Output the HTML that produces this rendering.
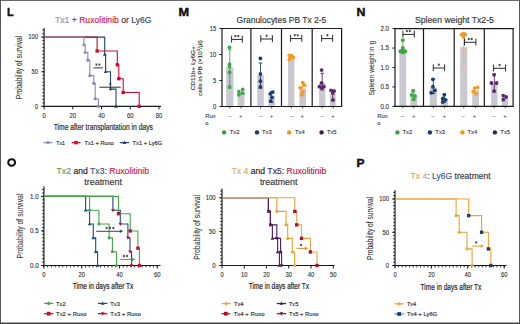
<!DOCTYPE html>
<html><head><meta charset="utf-8"><style>
html,body{margin:0;padding:0;background:#fff;width:520px;height:324px;overflow:hidden;}
svg{display:block;font-family:"Liberation Sans", sans-serif;}
</style></head><body>
<svg xmlns="http://www.w3.org/2000/svg" width="520" height="324" viewBox="0 0 520 324" font-family='"Liberation Sans", sans-serif'><rect x="0" y="0" width="520" height="324" fill="#ffffff" />
<text x="7" y="16" font-size="11.4" fill="#111" stroke="#111" stroke-width="0.45" font-weight="bold" textLength="6.6" lengthAdjust="spacingAndGlyphs" >L</text>
<text x="55" y="22.6" font-size="8.3" textLength="96.5" lengthAdjust="spacingAndGlyphs"><tspan fill="#8f8db8" stroke="#8f8db8" stroke-width="0.14">Tx1</tspan><tspan fill="#444" stroke="#444" stroke-width="0.14"> + </tspan><tspan fill="#c8174a" stroke="#c8174a" stroke-width="0.14">Ruxolitinib</tspan><tspan fill="#333" stroke="#333" stroke-width="0.14"> or </tspan><tspan fill="#33486a" stroke="#33486a" stroke-width="0.14">Ly6G</tspan></text>
<line x1="44.1" y1="28" x2="44.1" y2="106.9" stroke="#1a1a1a" stroke-width="1.2" />
<line x1="42.3" y1="106.4" x2="44.1" y2="106.4" stroke="#1a1a1a" stroke-width="0.9" />
<line x1="42.3" y1="102.94" x2="44.1" y2="102.94" stroke="#1a1a1a" stroke-width="0.9" />
<line x1="42.3" y1="99.47" x2="44.1" y2="99.47" stroke="#1a1a1a" stroke-width="0.9" />
<line x1="42.3" y1="96.01" x2="44.1" y2="96.01" stroke="#1a1a1a" stroke-width="0.9" />
<line x1="42.3" y1="92.54" x2="44.1" y2="92.54" stroke="#1a1a1a" stroke-width="0.9" />
<line x1="42.3" y1="89.08" x2="44.1" y2="89.08" stroke="#1a1a1a" stroke-width="0.9" />
<line x1="42.3" y1="85.61" x2="44.1" y2="85.61" stroke="#1a1a1a" stroke-width="0.9" />
<line x1="42.3" y1="82.15" x2="44.1" y2="82.15" stroke="#1a1a1a" stroke-width="0.9" />
<line x1="42.3" y1="78.68" x2="44.1" y2="78.68" stroke="#1a1a1a" stroke-width="0.9" />
<line x1="42.3" y1="75.22" x2="44.1" y2="75.22" stroke="#1a1a1a" stroke-width="0.9" />
<line x1="42.3" y1="71.75" x2="44.1" y2="71.75" stroke="#1a1a1a" stroke-width="0.9" />
<line x1="42.3" y1="68.29" x2="44.1" y2="68.29" stroke="#1a1a1a" stroke-width="0.9" />
<line x1="42.3" y1="64.82" x2="44.1" y2="64.82" stroke="#1a1a1a" stroke-width="0.9" />
<line x1="42.3" y1="61.36" x2="44.1" y2="61.36" stroke="#1a1a1a" stroke-width="0.9" />
<line x1="42.3" y1="57.89" x2="44.1" y2="57.89" stroke="#1a1a1a" stroke-width="0.9" />
<line x1="42.3" y1="54.43" x2="44.1" y2="54.43" stroke="#1a1a1a" stroke-width="0.9" />
<line x1="42.3" y1="50.96" x2="44.1" y2="50.96" stroke="#1a1a1a" stroke-width="0.9" />
<line x1="42.3" y1="47.5" x2="44.1" y2="47.5" stroke="#1a1a1a" stroke-width="0.9" />
<line x1="42.3" y1="44.03" x2="44.1" y2="44.03" stroke="#1a1a1a" stroke-width="0.9" />
<line x1="42.3" y1="40.57" x2="44.1" y2="40.57" stroke="#1a1a1a" stroke-width="0.9" />
<line x1="42.3" y1="37.1" x2="44.1" y2="37.1" stroke="#1a1a1a" stroke-width="0.9" />
<line x1="42.3" y1="33.64" x2="44.1" y2="33.64" stroke="#1a1a1a" stroke-width="0.9" />
<line x1="42.3" y1="30.17" x2="44.1" y2="30.17" stroke="#1a1a1a" stroke-width="0.9" />
<line x1="41.3" y1="106.4" x2="44.1" y2="106.4" stroke="#1a1a1a" stroke-width="1" />
<line x1="41.3" y1="71.75" x2="44.1" y2="71.75" stroke="#1a1a1a" stroke-width="1" />
<line x1="41.3" y1="37.1" x2="44.1" y2="37.1" stroke="#1a1a1a" stroke-width="1" />
<line x1="43.6" y1="106.4" x2="161" y2="106.4" stroke="#1a1a1a" stroke-width="1.2" />
<line x1="44.1" y1="106.4" x2="44.1" y2="109.4" stroke="#1a1a1a" stroke-width="1" />
<line x1="72.82" y1="106.4" x2="72.82" y2="109.4" stroke="#1a1a1a" stroke-width="1" />
<line x1="101.54" y1="106.4" x2="101.54" y2="109.4" stroke="#1a1a1a" stroke-width="1" />
<line x1="130.26" y1="106.4" x2="130.26" y2="109.4" stroke="#1a1a1a" stroke-width="1" />
<line x1="158.98" y1="106.4" x2="158.98" y2="109.4" stroke="#1a1a1a" stroke-width="1" />
<text x="37.9" y="108.75" font-size="6.6" fill="#2a2a2a" stroke="#2a2a2a" stroke-width="0.1" text-anchor="end" textLength="3.25" lengthAdjust="spacingAndGlyphs" >0</text>
<text x="37.9" y="74.1" font-size="6.6" fill="#2a2a2a" stroke="#2a2a2a" stroke-width="0.1" text-anchor="end" textLength="6.5" lengthAdjust="spacingAndGlyphs" >50</text>
<text x="37.9" y="39.45" font-size="6.6" fill="#2a2a2a" stroke="#2a2a2a" stroke-width="0.1" text-anchor="end" textLength="9.75" lengthAdjust="spacingAndGlyphs" >100</text>
<text x="44.1" y="118.3" font-size="6.6" fill="#2a2a2a" stroke="#2a2a2a" stroke-width="0.1" text-anchor="middle" textLength="3.25" lengthAdjust="spacingAndGlyphs" >0</text>
<text x="72.82" y="118.3" font-size="6.6" fill="#2a2a2a" stroke="#2a2a2a" stroke-width="0.1" text-anchor="middle" textLength="6.5" lengthAdjust="spacingAndGlyphs" >20</text>
<text x="101.54" y="118.3" font-size="6.6" fill="#2a2a2a" stroke="#2a2a2a" stroke-width="0.1" text-anchor="middle" textLength="6.5" lengthAdjust="spacingAndGlyphs" >40</text>
<text x="130.26" y="118.3" font-size="6.6" fill="#2a2a2a" stroke="#2a2a2a" stroke-width="0.1" text-anchor="middle" textLength="6.5" lengthAdjust="spacingAndGlyphs" >60</text>
<text x="158.98" y="118.3" font-size="6.6" fill="#2a2a2a" stroke="#2a2a2a" stroke-width="0.1" text-anchor="middle" textLength="6.5" lengthAdjust="spacingAndGlyphs" >80</text>
<text x="103.3" y="130.4" font-size="8.3" fill="#333" stroke="#333" stroke-width="0.22" text-anchor="middle" textLength="99.2" lengthAdjust="spacingAndGlyphs" >Time after transplantation in days</text>
<text x="22.4" y="67.4" font-size="8.2" fill="#333" stroke="#333" stroke-width="0.08" text-anchor="middle" textLength="63.5" lengthAdjust="spacingAndGlyphs" transform="rotate(-90 22.4 67.4)" >Probability of survival</text>
<path d="M44.5,37.1 H104.7 V54.43 H105.6 V71.75 H110.5 V89.08 H116 V106.4" stroke="#22456e" stroke-width="1.1" fill="none" />
<path d="M44.5,37.1 H97.1 V50.96 H117.3 V64.82 H118.8 V78.68 H123.2 V92.54 H139.2 V106.4" stroke="#c8102e" stroke-width="1.1" fill="none" />
<path d="M44.5,37.1 H83.9 V44.79 H85.2 V52.48 H87.8 V60.18 H89.8 V75.63 H93.8 V83.32 H95.2 V98.71 H98.4 V106.4" stroke="#8a88b6" stroke-width="1.1" fill="none" />
<circle cx="83.9" cy="44.79" r="1.56" fill="#8a88b6" />
<circle cx="85.2" cy="52.48" r="1.56" fill="#8a88b6" />
<circle cx="87.8" cy="60.18" r="1.56" fill="#8a88b6" />
<circle cx="89.8" cy="75.63" r="1.56" fill="#8a88b6" />
<circle cx="93.8" cy="83.32" r="1.56" fill="#8a88b6" />
<circle cx="95.2" cy="98.71" r="1.56" fill="#8a88b6" />
<circle cx="98.4" cy="106.4" r="1.56" fill="#8a88b6" />
<rect x="95.42" y="49.28" width="3.36" height="3.36" fill="#c8102e" />
<rect x="115.62" y="63.14" width="3.36" height="3.36" fill="#c8102e" />
<rect x="117.12" y="77" width="3.36" height="3.36" fill="#c8102e" />
<rect x="121.52" y="90.86" width="3.36" height="3.36" fill="#c8102e" />
<rect x="137.52" y="104.72" width="3.36" height="3.36" fill="#c8102e" />
<polygon points="104.7,52.48 106.5,55.72 102.9,55.72" fill="#22456e"/>
<polygon points="105.6,69.81 107.4,73.05 103.8,73.05" fill="#22456e"/>
<polygon points="110.5,87.13 112.3,90.37 108.7,90.37" fill="#22456e"/>
<polygon points="116,104.46 117.8,107.7 114.2,107.7" fill="#22456e"/>
<line x1="93.5" y1="67.9" x2="102.9" y2="67.9" stroke="#333" stroke-width="1" />
<path d="M96.4,63.5 L96.4,65.7 M95.45,64.05 L97.35,65.15 M97.35,64.05 L95.45,65.15 " stroke="#2a2a2a" stroke-width="0.75" fill="none" />
<path d="M99.4,63.5 L99.4,65.7 M98.45,64.05 L100.35,65.15 M100.35,64.05 L98.45,65.15 " stroke="#2a2a2a" stroke-width="0.75" fill="none" />
<line x1="99.4" y1="87.2" x2="120.7" y2="87.2" stroke="#2a2a2a" stroke-width="1" />
<path d="M110.3,82.9 L110.3,85.1 M109.35,83.45 L111.25,84.55 M111.25,83.45 L109.35,84.55 " stroke="#2a2a2a" stroke-width="0.75" fill="none" />
<line x1="43.5" y1="142.6" x2="52.4" y2="142.6" stroke="#8a88b6" stroke-width="1.25" />
<circle cx="47.95" cy="142.6" r="1.62" fill="#8a88b6" />
<text x="56.2" y="144.8" font-size="6" fill="#2a2a2a" stroke="#2a2a2a" stroke-width="0.14" textLength="8.8" lengthAdjust="spacingAndGlyphs" >Tx1</text>
<line x1="71.6" y1="142.6" x2="80.5" y2="142.6" stroke="#c8102e" stroke-width="1.25" />
<rect x="74.3" y="140.85" width="3.5" height="3.5" fill="#c8102e" />
<text x="84.4" y="144.8" font-size="6" fill="#2a2a2a" stroke="#2a2a2a" stroke-width="0.14" textLength="29.4" lengthAdjust="spacingAndGlyphs" >Tx1 + Ruxo</text>
<line x1="119.8" y1="142.6" x2="129.1" y2="142.6" stroke="#22456e" stroke-width="1.25" />
<polygon points="124.45,140.57 126.32,143.95 122.57,143.95" fill="#22456e"/>
<text x="132.6" y="144.8" font-size="6" fill="#2a2a2a" stroke="#2a2a2a" stroke-width="0.14" textLength="29.6" lengthAdjust="spacingAndGlyphs" >Tx1 + Ly6G</text>
<text x="178.4" y="16" font-size="11.4" fill="#111" stroke="#111" stroke-width="0.45" font-weight="bold" textLength="10.6" lengthAdjust="spacingAndGlyphs" >M</text>
<text x="236.6" y="22.8" font-size="8.3" fill="#333" stroke="#333" stroke-width="0.14" textLength="89.6" lengthAdjust="spacingAndGlyphs" >Granulocytes PB Tx 2-5</text>
<rect x="226.2" y="67.52" width="7.2" height="38.98" fill="#c9c7cf" />
<rect x="237.6" y="92.28" width="6.8" height="14.22" fill="#c9c7cf" />
<line x1="229.8" y1="49.8" x2="229.8" y2="88" stroke="#3da647" stroke-width="0.9" />
<line x1="228" y1="49.8" x2="231.6" y2="49.8" stroke="#3da647" stroke-width="0.9" />
<line x1="228" y1="88" x2="231.6" y2="88" stroke="#3da647" stroke-width="0.9" />
<circle cx="229.5" cy="47.3" r="1.9" fill="#3da647" />
<circle cx="229.5" cy="64.2" r="1.9" fill="#3da647" />
<circle cx="229.5" cy="66.6" r="1.9" fill="#3da647" />
<circle cx="229.5" cy="72.5" r="1.9" fill="#3da647" />
<circle cx="229.5" cy="87" r="1.9" fill="#3da647" />
<circle cx="238.9" cy="91.7" r="1.9" fill="#3da647" />
<circle cx="242.7" cy="89.4" r="1.9" fill="#3da647" />
<circle cx="238.9" cy="94.8" r="1.9" fill="#3da647" />
<circle cx="242.7" cy="93.2" r="1.9" fill="#3da647" />
<line x1="231.6" y1="39.4" x2="242.3" y2="39.4" stroke="#2a2a2a" stroke-width="1" />
<line x1="231.6" y1="35.7" x2="231.6" y2="42.6" stroke="#2a2a2a" stroke-width="1" />
<line x1="242.3" y1="35.7" x2="242.3" y2="42.6" stroke="#2a2a2a" stroke-width="1" />
<path d="M235.45,35 L235.45,37.2 M234.5,35.55 L236.4,36.65 M236.4,35.55 L234.5,36.65 " stroke="#2a2a2a" stroke-width="0.75" fill="none" />
<path d="M238.35,35 L238.35,37.2 M237.4,35.55 L239.3,36.65 M239.3,35.55 L237.4,36.65 " stroke="#2a2a2a" stroke-width="0.75" fill="none" />
<rect x="257.2" y="75.12" width="6.6" height="31.38" fill="#c9c7cf" />
<rect x="268.4" y="96.12" width="6.6" height="10.38" fill="#c9c7cf" />
<line x1="260.5" y1="63.1" x2="260.5" y2="88" stroke="#1b3f70" stroke-width="0.9" />
<line x1="258.7" y1="63.1" x2="262.3" y2="63.1" stroke="#1b3f70" stroke-width="0.9" />
<line x1="258.7" y1="88" x2="262.3" y2="88" stroke="#1b3f70" stroke-width="0.9" />
<circle cx="260.4" cy="58.4" r="1.9" fill="#1b3f70" />
<circle cx="260.4" cy="74" r="1.9" fill="#1b3f70" />
<circle cx="260.4" cy="81.2" r="1.9" fill="#1b3f70" />
<circle cx="260.4" cy="86.9" r="1.9" fill="#1b3f70" />
<line x1="271.7" y1="91.5" x2="271.7" y2="102.5" stroke="#1b3f70" stroke-width="0.9" />
<line x1="269.9" y1="91.5" x2="273.5" y2="91.5" stroke="#1b3f70" stroke-width="0.9" />
<line x1="269.9" y1="102.5" x2="273.5" y2="102.5" stroke="#1b3f70" stroke-width="0.9" />
<circle cx="270.2" cy="93.9" r="1.9" fill="#1b3f70" />
<circle cx="272.8" cy="92.1" r="1.9" fill="#1b3f70" />
<circle cx="272" cy="97.3" r="1.9" fill="#1b3f70" />
<circle cx="270.7" cy="101.2" r="1.9" fill="#1b3f70" />
<line x1="260.8" y1="39" x2="272.4" y2="39" stroke="#2a2a2a" stroke-width="1" />
<line x1="260.8" y1="35.3" x2="260.8" y2="42.2" stroke="#2a2a2a" stroke-width="1" />
<line x1="272.4" y1="35.3" x2="272.4" y2="42.2" stroke="#2a2a2a" stroke-width="1" />
<path d="M266.6,34.6 L266.6,36.8 M265.65,35.15 L267.55,36.25 M267.55,35.15 L265.65,36.25 " stroke="#2a2a2a" stroke-width="0.75" fill="none" />
<rect x="288" y="57.12" width="6.4" height="49.38" fill="#c9c7cf" />
<rect x="299.4" y="88.52" width="6.6" height="17.98" fill="#c9c7cf" />
<circle cx="289.3" cy="55.4" r="1.9" fill="#f29a21" />
<circle cx="289.3" cy="59.6" r="1.9" fill="#f29a21" />
<circle cx="293.3" cy="57.5" r="1.9" fill="#f29a21" />
<circle cx="291.3" cy="57.5" r="1.9" fill="#f29a21" />
<circle cx="291.5" cy="55.6" r="1.9" fill="#f29a21" />
<line x1="302.7" y1="82" x2="302.7" y2="95.5" stroke="#f29a21" stroke-width="0.9" />
<line x1="300.9" y1="82" x2="304.5" y2="82" stroke="#f29a21" stroke-width="0.9" />
<line x1="300.9" y1="95.5" x2="304.5" y2="95.5" stroke="#f29a21" stroke-width="0.9" />
<circle cx="302.7" cy="82.6" r="1.9" fill="#f29a21" />
<circle cx="304.6" cy="85.2" r="1.9" fill="#f29a21" />
<circle cx="300.2" cy="87.8" r="1.9" fill="#f29a21" />
<circle cx="302.7" cy="92.2" r="1.9" fill="#f29a21" />
<circle cx="301.6" cy="94.8" r="1.9" fill="#f29a21" />
<line x1="290.6" y1="38.6" x2="301.8" y2="38.6" stroke="#2a2a2a" stroke-width="1" />
<line x1="290.6" y1="34.9" x2="290.6" y2="41.8" stroke="#2a2a2a" stroke-width="1" />
<line x1="301.8" y1="34.9" x2="301.8" y2="41.8" stroke="#2a2a2a" stroke-width="1" />
<path d="M294.75,34.2 L294.75,36.4 M293.8,34.75 L295.7,35.85 M295.7,34.75 L293.8,35.85 " stroke="#2a2a2a" stroke-width="0.75" fill="none" />
<path d="M297.65,34.2 L297.65,36.4 M296.7,34.75 L298.6,35.85 M298.6,34.75 L296.7,35.85 " stroke="#2a2a2a" stroke-width="0.75" fill="none" />
<rect x="319.1" y="82.9" width="6.2" height="23.6" fill="#c9c7cf" />
<rect x="329.8" y="93.62" width="5.9" height="12.88" fill="#c9c7cf" />
<line x1="322.2" y1="73.3" x2="322.2" y2="90" stroke="#5a2a6c" stroke-width="0.9" />
<line x1="320.4" y1="73.3" x2="324" y2="73.3" stroke="#5a2a6c" stroke-width="0.9" />
<line x1="320.4" y1="90" x2="324" y2="90" stroke="#5a2a6c" stroke-width="0.9" />
<circle cx="321.6" cy="70.1" r="1.9" fill="#5a2a6c" />
<circle cx="321.6" cy="83" r="1.9" fill="#5a2a6c" />
<circle cx="319.4" cy="86.7" r="1.9" fill="#5a2a6c" />
<circle cx="323.9" cy="86.7" r="1.9" fill="#5a2a6c" />
<circle cx="321.8" cy="88" r="1.9" fill="#5a2a6c" />
<line x1="332.75" y1="90" x2="332.75" y2="100.5" stroke="#5a2a6c" stroke-width="0.9" />
<line x1="330.95" y1="90" x2="334.55" y2="90" stroke="#5a2a6c" stroke-width="0.9" />
<line x1="330.95" y1="100.5" x2="334.55" y2="100.5" stroke="#5a2a6c" stroke-width="0.9" />
<circle cx="331" cy="90.4" r="1.9" fill="#5a2a6c" />
<circle cx="334.2" cy="91.1" r="1.9" fill="#5a2a6c" />
<circle cx="332.8" cy="93" r="1.9" fill="#5a2a6c" />
<circle cx="333" cy="100" r="1.9" fill="#5a2a6c" />
<line x1="321.6" y1="38.6" x2="332.6" y2="38.6" stroke="#2a2a2a" stroke-width="1" />
<line x1="321.6" y1="34.9" x2="321.6" y2="41.8" stroke="#2a2a2a" stroke-width="1" />
<line x1="332.6" y1="34.9" x2="332.6" y2="41.8" stroke="#2a2a2a" stroke-width="1" />
<path d="M327.4,34.2 L327.4,36.4 M326.45,34.75 L328.35,35.85 M328.35,34.75 L326.45,35.85 " stroke="#2a2a2a" stroke-width="0.75" fill="none" />
<line x1="222" y1="28.5" x2="342.1" y2="28.5" stroke="#1a1a1a" stroke-width="1.2" />
<line x1="250.9" y1="28.5" x2="250.9" y2="106.5" stroke="#1a1a1a" stroke-width="1.2" />
<line x1="281.5" y1="28.5" x2="281.5" y2="106.5" stroke="#1a1a1a" stroke-width="1.2" />
<line x1="312.2" y1="28.5" x2="312.2" y2="106.5" stroke="#1a1a1a" stroke-width="1.2" />
<line x1="341.6" y1="28.5" x2="341.6" y2="106.5" stroke="#1a1a1a" stroke-width="1.2" />
<line x1="222" y1="28" x2="222" y2="107" stroke="#1a1a1a" stroke-width="1.2" />
<line x1="221.5" y1="106.5" x2="342.1" y2="106.5" stroke="#1a1a1a" stroke-width="1.2" />
<line x1="219.4" y1="106.5" x2="222" y2="106.5" stroke="#1a1a1a" stroke-width="1" />
<text x="216.2" y="108.85" font-size="6.6" fill="#2a2a2a" stroke="#2a2a2a" stroke-width="0.1" text-anchor="end" textLength="3.25" lengthAdjust="spacingAndGlyphs" >0</text>
<line x1="219.4" y1="80.5" x2="222" y2="80.5" stroke="#1a1a1a" stroke-width="1" />
<text x="216.2" y="82.85" font-size="6.6" fill="#2a2a2a" stroke="#2a2a2a" stroke-width="0.1" text-anchor="end" textLength="3.25" lengthAdjust="spacingAndGlyphs" >5</text>
<line x1="219.4" y1="54.5" x2="222" y2="54.5" stroke="#1a1a1a" stroke-width="1" />
<text x="216.2" y="56.85" font-size="6.6" fill="#2a2a2a" stroke="#2a2a2a" stroke-width="0.1" text-anchor="end" textLength="6.5" lengthAdjust="spacingAndGlyphs" >10</text>
<line x1="219.4" y1="28.5" x2="222" y2="28.5" stroke="#1a1a1a" stroke-width="1" />
<text x="216.2" y="30.85" font-size="6.6" fill="#2a2a2a" stroke="#2a2a2a" stroke-width="0.1" text-anchor="end" textLength="6.5" lengthAdjust="spacingAndGlyphs" >15</text>
<line x1="229.8" y1="106.5" x2="229.8" y2="108.3" stroke="#1a1a1a" stroke-width="0.8" />
<line x1="241" y1="106.5" x2="241" y2="108.3" stroke="#1a1a1a" stroke-width="0.8" />
<line x1="260.5" y1="106.5" x2="260.5" y2="108.3" stroke="#1a1a1a" stroke-width="0.8" />
<line x1="271.7" y1="106.5" x2="271.7" y2="108.3" stroke="#1a1a1a" stroke-width="0.8" />
<line x1="291.3" y1="106.5" x2="291.3" y2="108.3" stroke="#1a1a1a" stroke-width="0.8" />
<line x1="302.7" y1="106.5" x2="302.7" y2="108.3" stroke="#1a1a1a" stroke-width="0.8" />
<line x1="322.1" y1="106.5" x2="322.1" y2="108.3" stroke="#1a1a1a" stroke-width="0.8" />
<line x1="333.3" y1="106.5" x2="333.3" y2="108.3" stroke="#1a1a1a" stroke-width="0.8" />
<text x="195.4" y="68.2" font-size="5.6" fill="#333" stroke="#333" stroke-width="0.12" text-anchor="middle" textLength="44.3" lengthAdjust="spacingAndGlyphs" transform="rotate(-90 195.4 68.2)" >CD11b+ Ly6G+</text>
<text x="202.4" y="68" font-size="5.6" fill="#333" stroke="#333" stroke-width="0.12" text-anchor="middle" textLength="56" lengthAdjust="spacingAndGlyphs" transform="rotate(-90 202.4 68)" >cells in PB (×10<tspan font-size="3.6" dy="-2">3</tspan><tspan dy="2">/µl)</tspan></text>
<text x="205.2" y="117.8" font-size="5.8" fill="#444" stroke="#444" stroke-width="0.1" textLength="10.6" lengthAdjust="spacingAndGlyphs" >Rux</text>
<text x="205.2" y="125.4" font-size="5.8" fill="#444" stroke="#444" stroke-width="0.1" >o</text>
<text x="229.6" y="118" font-size="5.8" fill="#444" stroke="#444" stroke-width="0.05" text-anchor="middle" >–</text>
<text x="240.6" y="118" font-size="5.8" fill="#444" stroke="#444" stroke-width="0.05" text-anchor="middle" >+</text>
<text x="260.8" y="118" font-size="5.8" fill="#444" stroke="#444" stroke-width="0.05" text-anchor="middle" >–</text>
<text x="271.4" y="118" font-size="5.8" fill="#444" stroke="#444" stroke-width="0.05" text-anchor="middle" >+</text>
<text x="291.6" y="118" font-size="5.8" fill="#444" stroke="#444" stroke-width="0.05" text-anchor="middle" >–</text>
<text x="302.3" y="118" font-size="5.8" fill="#444" stroke="#444" stroke-width="0.05" text-anchor="middle" >+</text>
<text x="321.9" y="118" font-size="5.8" fill="#444" stroke="#444" stroke-width="0.05" text-anchor="middle" >–</text>
<text x="332.9" y="118" font-size="5.8" fill="#444" stroke="#444" stroke-width="0.05" text-anchor="middle" >+</text>
<circle cx="224.1" cy="132.4" r="2.2" fill="#3a9a45" />
<text x="229.7" y="134.3" font-size="6" fill="#333" stroke="#333" stroke-width="0.12" textLength="9.7" lengthAdjust="spacingAndGlyphs" >Tx2</text>
<circle cx="257" cy="132.4" r="2.2" fill="#1a3a66" />
<text x="262" y="134.3" font-size="6" fill="#333" stroke="#333" stroke-width="0.12" textLength="9.7" lengthAdjust="spacingAndGlyphs" >Tx3</text>
<circle cx="289.1" cy="132.4" r="2.2" fill="#ee9620" />
<text x="295" y="134.3" font-size="6" fill="#333" stroke="#333" stroke-width="0.12" textLength="9.7" lengthAdjust="spacingAndGlyphs" >Tx4</text>
<circle cx="321.6" cy="132.4" r="2.2" fill="#3d1f50" />
<text x="326.9" y="134.3" font-size="6" fill="#333" stroke="#333" stroke-width="0.12" textLength="9.7" lengthAdjust="spacingAndGlyphs" >Tx5</text>
<text x="356.6" y="16" font-size="11.4" fill="#111" stroke="#111" stroke-width="0.45" font-weight="bold" textLength="8.9" lengthAdjust="spacingAndGlyphs" >N</text>
<text x="415" y="22.8" font-size="8.3" fill="#333" stroke="#333" stroke-width="0.14" textLength="78.9" lengthAdjust="spacingAndGlyphs" >Spleen weight Tx2-5</text>
<rect x="399.4" y="48.8" width="6.8" height="57.6" fill="#c9c7cf" />
<rect x="410.4" y="95.28" width="6.8" height="11.12" fill="#c9c7cf" />
<line x1="402.8" y1="39.6" x2="402.8" y2="52.5" stroke="#3da647" stroke-width="0.9" />
<line x1="401" y1="39.6" x2="404.6" y2="39.6" stroke="#3da647" stroke-width="0.9" />
<line x1="401" y1="52.5" x2="404.6" y2="52.5" stroke="#3da647" stroke-width="0.9" />
<circle cx="402.8" cy="40.2" r="1.9" fill="#3da647" />
<circle cx="402.8" cy="47.8" r="1.9" fill="#3da647" />
<circle cx="400.3" cy="51.4" r="1.9" fill="#3da647" />
<circle cx="405.3" cy="51.4" r="1.9" fill="#3da647" />
<circle cx="402.8" cy="52.4" r="1.9" fill="#3da647" />
<circle cx="402.8" cy="49.6" r="1.9" fill="#3da647" />
<line x1="413.8" y1="90" x2="413.8" y2="100.5" stroke="#3da647" stroke-width="0.9" />
<line x1="412" y1="90" x2="415.6" y2="90" stroke="#3da647" stroke-width="0.9" />
<line x1="412" y1="100.5" x2="415.6" y2="100.5" stroke="#3da647" stroke-width="0.9" />
<circle cx="413" cy="90.9" r="1.9" fill="#3da647" />
<circle cx="411.6" cy="95" r="1.9" fill="#3da647" />
<circle cx="415" cy="96" r="1.9" fill="#3da647" />
<circle cx="413.6" cy="99.2" r="1.9" fill="#3da647" />
<line x1="402.9" y1="34.4" x2="414.3" y2="34.4" stroke="#2a2a2a" stroke-width="1" />
<line x1="402.9" y1="30.7" x2="402.9" y2="37.6" stroke="#2a2a2a" stroke-width="1" />
<line x1="414.3" y1="30.7" x2="414.3" y2="37.6" stroke="#2a2a2a" stroke-width="1" />
<path d="M406.85,30 L406.85,32.2 M405.9,30.55 L407.8,31.65 M407.8,30.55 L405.9,31.65 " stroke="#2a2a2a" stroke-width="0.75" fill="none" />
<path d="M409.75,30 L409.75,32.2 M408.8,30.55 L410.7,31.65 M410.7,30.55 L408.8,31.65 " stroke="#2a2a2a" stroke-width="0.75" fill="none" />
<rect x="429.8" y="87.3" width="7" height="19.1" fill="#c9c7cf" />
<rect x="440.8" y="98.75" width="7" height="7.65" fill="#c9c7cf" />
<line x1="433.3" y1="79" x2="433.3" y2="93.5" stroke="#1b3f70" stroke-width="0.9" />
<line x1="431.5" y1="79" x2="435.1" y2="79" stroke="#1b3f70" stroke-width="0.9" />
<line x1="431.5" y1="93.5" x2="435.1" y2="93.5" stroke="#1b3f70" stroke-width="0.9" />
<circle cx="432.9" cy="79.3" r="1.9" fill="#1b3f70" />
<circle cx="432.9" cy="86.7" r="1.9" fill="#1b3f70" />
<circle cx="434.9" cy="90.4" r="1.9" fill="#1b3f70" />
<circle cx="431.2" cy="92.8" r="1.9" fill="#1b3f70" />
<line x1="444.3" y1="94" x2="444.3" y2="102.5" stroke="#1b3f70" stroke-width="0.9" />
<line x1="442.5" y1="94" x2="446.1" y2="94" stroke="#1b3f70" stroke-width="0.9" />
<line x1="442.5" y1="102.5" x2="446.1" y2="102.5" stroke="#1b3f70" stroke-width="0.9" />
<circle cx="444.4" cy="94.8" r="1.9" fill="#1b3f70" />
<circle cx="442.8" cy="98.4" r="1.9" fill="#1b3f70" />
<circle cx="445.6" cy="99.8" r="1.9" fill="#1b3f70" />
<circle cx="442.8" cy="102" r="1.9" fill="#1b3f70" />
<line x1="433.3" y1="68" x2="444.6" y2="68" stroke="#2a2a2a" stroke-width="1" />
<line x1="433.3" y1="64.3" x2="433.3" y2="71.2" stroke="#2a2a2a" stroke-width="1" />
<line x1="444.6" y1="64.3" x2="444.6" y2="71.2" stroke="#2a2a2a" stroke-width="1" />
<path d="M438.8,63.6 L438.8,65.8 M437.85,64.15 L439.75,65.25 M439.75,64.15 L437.85,65.25 " stroke="#2a2a2a" stroke-width="0.75" fill="none" />
<rect x="460.2" y="47.2" width="7" height="59.2" fill="#c9c7cf" />
<rect x="472.2" y="90.12" width="6.8" height="16.28" fill="#c9c7cf" />
<line x1="463.7" y1="32.6" x2="463.7" y2="67.6" stroke="#e6b878" stroke-width="0.9" />
<line x1="461.9" y1="32.6" x2="465.5" y2="32.6" stroke="#f29a21" stroke-width="0.9" />
<line x1="461.9" y1="67.6" x2="465.5" y2="67.6" stroke="#e6b878" stroke-width="0.9" />
<circle cx="461.6" cy="34.6" r="1.9" fill="#f29a21" />
<circle cx="465.4" cy="34.6" r="1.9" fill="#f29a21" />
<circle cx="463.5" cy="36.9" r="1.9" fill="#f29a21" />
<circle cx="463.5" cy="33.6" r="1.9" fill="#f29a21" />
<circle cx="474.7" cy="88.1" r="1.9" fill="#f29a21" />
<circle cx="477.5" cy="87.3" r="1.9" fill="#f29a21" />
<circle cx="473.3" cy="91.4" r="1.9" fill="#f29a21" />
<circle cx="476.1" cy="93.7" r="1.9" fill="#f29a21" />
<line x1="464.5" y1="42.3" x2="475.9" y2="42.3" stroke="#2a2a2a" stroke-width="1" />
<line x1="464.5" y1="38.6" x2="464.5" y2="45.5" stroke="#2a2a2a" stroke-width="1" />
<line x1="475.9" y1="38.6" x2="475.9" y2="45.5" stroke="#2a2a2a" stroke-width="1" />
<path d="M468.75,37.9 L468.75,40.1 M467.8,38.45 L469.7,39.55 M469.7,38.45 L467.8,39.55 " stroke="#2a2a2a" stroke-width="0.75" fill="none" />
<path d="M471.65,37.9 L471.65,40.1 M470.7,38.45 L472.6,39.55 M472.6,38.45 L470.7,39.55 " stroke="#2a2a2a" stroke-width="0.75" fill="none" />
<rect x="491.1" y="82.97" width="6.4" height="23.43" fill="#c9c7cf" />
<rect x="501.8" y="97.43" width="6.1" height="8.97" fill="#c9c7cf" />
<line x1="494.3" y1="74" x2="494.3" y2="91.9" stroke="#5a2a6c" stroke-width="0.9" />
<line x1="492.5" y1="74" x2="496.1" y2="74" stroke="#5a2a6c" stroke-width="0.9" />
<line x1="492.5" y1="91.9" x2="496.1" y2="91.9" stroke="#5a2a6c" stroke-width="0.9" />
<circle cx="494.1" cy="74.8" r="1.9" fill="#5a2a6c" />
<circle cx="491.4" cy="83" r="1.9" fill="#5a2a6c" />
<circle cx="496.6" cy="83" r="1.9" fill="#5a2a6c" />
<circle cx="494.1" cy="91.1" r="1.9" fill="#5a2a6c" />
<circle cx="503.3" cy="95.6" r="1.9" fill="#5a2a6c" />
<circle cx="506.2" cy="97" r="1.9" fill="#5a2a6c" />
<circle cx="503.3" cy="99.7" r="1.9" fill="#5a2a6c" />
<line x1="493.6" y1="68.3" x2="505.6" y2="68.3" stroke="#2a2a2a" stroke-width="1" />
<line x1="493.6" y1="64.6" x2="493.6" y2="71.5" stroke="#2a2a2a" stroke-width="1" />
<line x1="505.6" y1="64.6" x2="505.6" y2="71.5" stroke="#2a2a2a" stroke-width="1" />
<path d="M499.6,63.9 L499.6,66.1 M498.65,64.45 L500.55,65.55 M500.55,64.45 L498.65,65.55 " stroke="#2a2a2a" stroke-width="0.75" fill="none" />
<circle cx="463.6" cy="49.6" r="1.7" fill="#ebc48c" />
<circle cx="463.6" cy="66.6" r="1.7" fill="#e8c898" />
<line x1="395" y1="28.6" x2="513.7" y2="28.6" stroke="#1a1a1a" stroke-width="1.2" />
<line x1="423.5" y1="28.6" x2="423.5" y2="106.4" stroke="#1a1a1a" stroke-width="1.2" />
<line x1="454.2" y1="28.6" x2="454.2" y2="106.4" stroke="#1a1a1a" stroke-width="1.2" />
<line x1="484.3" y1="28.6" x2="484.3" y2="106.4" stroke="#1a1a1a" stroke-width="1.2" />
<line x1="513.1" y1="28.6" x2="513.1" y2="106.4" stroke="#1a1a1a" stroke-width="1.2" />
<line x1="395" y1="28.1" x2="395" y2="106.9" stroke="#1a1a1a" stroke-width="1.2" />
<line x1="394.5" y1="106.4" x2="513.7" y2="106.4" stroke="#1a1a1a" stroke-width="1.2" />
<line x1="392.4" y1="106.4" x2="395" y2="106.4" stroke="#1a1a1a" stroke-width="1" />
<text x="389" y="108.75" font-size="6.6" fill="#2a2a2a" stroke="#2a2a2a" stroke-width="0.1" text-anchor="end" textLength="8.6" lengthAdjust="spacingAndGlyphs" >0.0</text>
<line x1="392.4" y1="86.95" x2="395" y2="86.95" stroke="#1a1a1a" stroke-width="1" />
<text x="389" y="89.3" font-size="6.6" fill="#2a2a2a" stroke="#2a2a2a" stroke-width="0.1" text-anchor="end" textLength="8.6" lengthAdjust="spacingAndGlyphs" >0.5</text>
<line x1="392.4" y1="67.5" x2="395" y2="67.5" stroke="#1a1a1a" stroke-width="1" />
<text x="389" y="69.85" font-size="6.6" fill="#2a2a2a" stroke="#2a2a2a" stroke-width="0.1" text-anchor="end" textLength="8.6" lengthAdjust="spacingAndGlyphs" >1.0</text>
<line x1="392.4" y1="48.05" x2="395" y2="48.05" stroke="#1a1a1a" stroke-width="1" />
<text x="389" y="50.4" font-size="6.6" fill="#2a2a2a" stroke="#2a2a2a" stroke-width="0.1" text-anchor="end" textLength="8.6" lengthAdjust="spacingAndGlyphs" >1.5</text>
<line x1="392.4" y1="28.6" x2="395" y2="28.6" stroke="#1a1a1a" stroke-width="1" />
<text x="389" y="30.95" font-size="6.6" fill="#2a2a2a" stroke="#2a2a2a" stroke-width="0.1" text-anchor="end" textLength="8.6" lengthAdjust="spacingAndGlyphs" >2.0</text>
<line x1="402.8" y1="106.4" x2="402.8" y2="108.2" stroke="#1a1a1a" stroke-width="0.8" />
<line x1="413.8" y1="106.4" x2="413.8" y2="108.2" stroke="#1a1a1a" stroke-width="0.8" />
<line x1="433.3" y1="106.4" x2="433.3" y2="108.2" stroke="#1a1a1a" stroke-width="0.8" />
<line x1="444.3" y1="106.4" x2="444.3" y2="108.2" stroke="#1a1a1a" stroke-width="0.8" />
<line x1="463.7" y1="106.4" x2="463.7" y2="108.2" stroke="#1a1a1a" stroke-width="0.8" />
<line x1="475.6" y1="106.4" x2="475.6" y2="108.2" stroke="#1a1a1a" stroke-width="0.8" />
<line x1="494.2" y1="106.4" x2="494.2" y2="108.2" stroke="#1a1a1a" stroke-width="0.8" />
<line x1="505.3" y1="106.4" x2="505.3" y2="108.2" stroke="#1a1a1a" stroke-width="0.8" />
<text x="373.6" y="68.2" font-size="7.5" fill="#333" stroke="#333" stroke-width="0.1" text-anchor="middle" textLength="54.8" lengthAdjust="spacingAndGlyphs" transform="rotate(-90 373.6 68.2)" >Spleen weight in g</text>
<text x="377.2" y="117.8" font-size="5.8" fill="#444" stroke="#444" stroke-width="0.1" textLength="10.6" lengthAdjust="spacingAndGlyphs" >Rux</text>
<text x="377.2" y="125.4" font-size="5.8" fill="#444" stroke="#444" stroke-width="0.1" >o</text>
<text x="402.6" y="118" font-size="5.8" fill="#444" stroke="#444" stroke-width="0.05" text-anchor="middle" >–</text>
<text x="413.8" y="118" font-size="5.8" fill="#444" stroke="#444" stroke-width="0.05" text-anchor="middle" >+</text>
<text x="432.9" y="118" font-size="5.8" fill="#444" stroke="#444" stroke-width="0.05" text-anchor="middle" >–</text>
<text x="444.4" y="118" font-size="5.8" fill="#444" stroke="#444" stroke-width="0.05" text-anchor="middle" >+</text>
<text x="463.2" y="118" font-size="5.8" fill="#444" stroke="#444" stroke-width="0.05" text-anchor="middle" >–</text>
<text x="474.4" y="118" font-size="5.8" fill="#444" stroke="#444" stroke-width="0.05" text-anchor="middle" >+</text>
<text x="493.5" y="118" font-size="5.8" fill="#444" stroke="#444" stroke-width="0.05" text-anchor="middle" >–</text>
<text x="505" y="118" font-size="5.8" fill="#444" stroke="#444" stroke-width="0.05" text-anchor="middle" >+</text>
<circle cx="397.4" cy="132.4" r="2.2" fill="#3a9a45" />
<text x="402.5" y="134.3" font-size="6" fill="#333" stroke="#333" stroke-width="0.12" textLength="9.8" lengthAdjust="spacingAndGlyphs" >Tx2</text>
<circle cx="429.9" cy="132.4" r="2.2" fill="#1a3a66" />
<text x="435.3" y="134.3" font-size="6" fill="#333" stroke="#333" stroke-width="0.12" textLength="9.8" lengthAdjust="spacingAndGlyphs" >Tx3</text>
<circle cx="462.4" cy="132.4" r="2.2" fill="#ee9620" />
<text x="467.5" y="134.3" font-size="6" fill="#333" stroke="#333" stroke-width="0.12" textLength="9.8" lengthAdjust="spacingAndGlyphs" >Tx4</text>
<circle cx="494.9" cy="132.4" r="2.2" fill="#3d1f50" />
<text x="500.3" y="134.3" font-size="6" fill="#333" stroke="#333" stroke-width="0.12" textLength="9.8" lengthAdjust="spacingAndGlyphs" >Tx5</text>
<ellipse cx="11.65" cy="162.4" rx="3.45" ry="3.25" fill="none" stroke="#111" stroke-width="2.0"/>
<text x="56.6" y="174.2" font-size="8.3" textLength="92.5" lengthAdjust="spacingAndGlyphs"><tspan fill="#5a9c60" stroke="#5a9c60" stroke-width="0.14">Tx2</tspan><tspan fill="#222" stroke="#222" stroke-width="0.14"> and </tspan><tspan fill="#3d5470" stroke="#3d5470" stroke-width="0.14">Tx3:</tspan><tspan fill="#c8174a" stroke="#c8174a" stroke-width="0.14"> Ruxolitinib</tspan></text>
<text x="84.3" y="184.8" font-size="8.3" fill="#333" stroke="#333" stroke-width="0.14" textLength="37.6" lengthAdjust="spacingAndGlyphs" >treatment</text>
<line x1="43.9" y1="186.5" x2="43.9" y2="266" stroke="#1a1a1a" stroke-width="1.2" />
<line x1="42.1" y1="265.5" x2="43.9" y2="265.5" stroke="#1a1a1a" stroke-width="0.9" />
<line x1="42.1" y1="262.05" x2="43.9" y2="262.05" stroke="#1a1a1a" stroke-width="0.9" />
<line x1="42.1" y1="258.59" x2="43.9" y2="258.59" stroke="#1a1a1a" stroke-width="0.9" />
<line x1="42.1" y1="255.13" x2="43.9" y2="255.13" stroke="#1a1a1a" stroke-width="0.9" />
<line x1="42.1" y1="251.68" x2="43.9" y2="251.68" stroke="#1a1a1a" stroke-width="0.9" />
<line x1="42.1" y1="248.22" x2="43.9" y2="248.22" stroke="#1a1a1a" stroke-width="0.9" />
<line x1="42.1" y1="244.77" x2="43.9" y2="244.77" stroke="#1a1a1a" stroke-width="0.9" />
<line x1="42.1" y1="241.31" x2="43.9" y2="241.31" stroke="#1a1a1a" stroke-width="0.9" />
<line x1="42.1" y1="237.86" x2="43.9" y2="237.86" stroke="#1a1a1a" stroke-width="0.9" />
<line x1="42.1" y1="234.41" x2="43.9" y2="234.41" stroke="#1a1a1a" stroke-width="0.9" />
<line x1="42.1" y1="230.95" x2="43.9" y2="230.95" stroke="#1a1a1a" stroke-width="0.9" />
<line x1="42.1" y1="227.5" x2="43.9" y2="227.5" stroke="#1a1a1a" stroke-width="0.9" />
<line x1="42.1" y1="224.04" x2="43.9" y2="224.04" stroke="#1a1a1a" stroke-width="0.9" />
<line x1="42.1" y1="220.59" x2="43.9" y2="220.59" stroke="#1a1a1a" stroke-width="0.9" />
<line x1="42.1" y1="217.13" x2="43.9" y2="217.13" stroke="#1a1a1a" stroke-width="0.9" />
<line x1="42.1" y1="213.68" x2="43.9" y2="213.68" stroke="#1a1a1a" stroke-width="0.9" />
<line x1="42.1" y1="210.22" x2="43.9" y2="210.22" stroke="#1a1a1a" stroke-width="0.9" />
<line x1="42.1" y1="206.77" x2="43.9" y2="206.77" stroke="#1a1a1a" stroke-width="0.9" />
<line x1="42.1" y1="203.31" x2="43.9" y2="203.31" stroke="#1a1a1a" stroke-width="0.9" />
<line x1="42.1" y1="199.86" x2="43.9" y2="199.86" stroke="#1a1a1a" stroke-width="0.9" />
<line x1="42.1" y1="196.4" x2="43.9" y2="196.4" stroke="#1a1a1a" stroke-width="0.9" />
<line x1="42.1" y1="192.94" x2="43.9" y2="192.94" stroke="#1a1a1a" stroke-width="0.9" />
<line x1="42.1" y1="189.49" x2="43.9" y2="189.49" stroke="#1a1a1a" stroke-width="0.9" />
<line x1="41.1" y1="265.5" x2="43.9" y2="265.5" stroke="#1a1a1a" stroke-width="1" />
<line x1="41.1" y1="230.95" x2="43.9" y2="230.95" stroke="#1a1a1a" stroke-width="1" />
<line x1="41.1" y1="196.4" x2="43.9" y2="196.4" stroke="#1a1a1a" stroke-width="1" />
<line x1="43.4" y1="265.5" x2="160.5" y2="265.5" stroke="#1a1a1a" stroke-width="1.2" />
<line x1="43.9" y1="265.5" x2="43.9" y2="267.4" stroke="#1a1a1a" stroke-width="0.9" />
<line x1="47.68" y1="265.5" x2="47.68" y2="267.4" stroke="#1a1a1a" stroke-width="0.9" />
<line x1="51.46" y1="265.5" x2="51.46" y2="267.4" stroke="#1a1a1a" stroke-width="0.9" />
<line x1="55.24" y1="265.5" x2="55.24" y2="267.4" stroke="#1a1a1a" stroke-width="0.9" />
<line x1="59.02" y1="265.5" x2="59.02" y2="267.4" stroke="#1a1a1a" stroke-width="0.9" />
<line x1="62.8" y1="265.5" x2="62.8" y2="267.4" stroke="#1a1a1a" stroke-width="0.9" />
<line x1="66.58" y1="265.5" x2="66.58" y2="267.4" stroke="#1a1a1a" stroke-width="0.9" />
<line x1="70.36" y1="265.5" x2="70.36" y2="267.4" stroke="#1a1a1a" stroke-width="0.9" />
<line x1="74.14" y1="265.5" x2="74.14" y2="267.4" stroke="#1a1a1a" stroke-width="0.9" />
<line x1="77.92" y1="265.5" x2="77.92" y2="267.4" stroke="#1a1a1a" stroke-width="0.9" />
<line x1="81.7" y1="265.5" x2="81.7" y2="267.4" stroke="#1a1a1a" stroke-width="0.9" />
<line x1="85.48" y1="265.5" x2="85.48" y2="267.4" stroke="#1a1a1a" stroke-width="0.9" />
<line x1="89.26" y1="265.5" x2="89.26" y2="267.4" stroke="#1a1a1a" stroke-width="0.9" />
<line x1="93.04" y1="265.5" x2="93.04" y2="267.4" stroke="#1a1a1a" stroke-width="0.9" />
<line x1="96.82" y1="265.5" x2="96.82" y2="267.4" stroke="#1a1a1a" stroke-width="0.9" />
<line x1="100.6" y1="265.5" x2="100.6" y2="267.4" stroke="#1a1a1a" stroke-width="0.9" />
<line x1="104.38" y1="265.5" x2="104.38" y2="267.4" stroke="#1a1a1a" stroke-width="0.9" />
<line x1="108.16" y1="265.5" x2="108.16" y2="267.4" stroke="#1a1a1a" stroke-width="0.9" />
<line x1="111.94" y1="265.5" x2="111.94" y2="267.4" stroke="#1a1a1a" stroke-width="0.9" />
<line x1="115.72" y1="265.5" x2="115.72" y2="267.4" stroke="#1a1a1a" stroke-width="0.9" />
<line x1="119.5" y1="265.5" x2="119.5" y2="267.4" stroke="#1a1a1a" stroke-width="0.9" />
<line x1="123.28" y1="265.5" x2="123.28" y2="267.4" stroke="#1a1a1a" stroke-width="0.9" />
<line x1="127.06" y1="265.5" x2="127.06" y2="267.4" stroke="#1a1a1a" stroke-width="0.9" />
<line x1="130.84" y1="265.5" x2="130.84" y2="267.4" stroke="#1a1a1a" stroke-width="0.9" />
<line x1="134.62" y1="265.5" x2="134.62" y2="267.4" stroke="#1a1a1a" stroke-width="0.9" />
<line x1="138.4" y1="265.5" x2="138.4" y2="267.4" stroke="#1a1a1a" stroke-width="0.9" />
<line x1="142.18" y1="265.5" x2="142.18" y2="267.4" stroke="#1a1a1a" stroke-width="0.9" />
<line x1="145.96" y1="265.5" x2="145.96" y2="267.4" stroke="#1a1a1a" stroke-width="0.9" />
<line x1="149.74" y1="265.5" x2="149.74" y2="267.4" stroke="#1a1a1a" stroke-width="0.9" />
<line x1="153.52" y1="265.5" x2="153.52" y2="267.4" stroke="#1a1a1a" stroke-width="0.9" />
<line x1="157.3" y1="265.5" x2="157.3" y2="267.4" stroke="#1a1a1a" stroke-width="0.9" />
<line x1="43.9" y1="265.5" x2="43.9" y2="268.5" stroke="#1a1a1a" stroke-width="1" />
<line x1="81.7" y1="265.5" x2="81.7" y2="268.5" stroke="#1a1a1a" stroke-width="1" />
<line x1="119.5" y1="265.5" x2="119.5" y2="268.5" stroke="#1a1a1a" stroke-width="1" />
<line x1="157.3" y1="265.5" x2="157.3" y2="268.5" stroke="#1a1a1a" stroke-width="1" />
<text x="38.6" y="267.85" font-size="6.6" fill="#2a2a2a" stroke="#2a2a2a" stroke-width="0.1" text-anchor="end" textLength="8.6" lengthAdjust="spacingAndGlyphs" >0.0</text>
<text x="38.6" y="233.3" font-size="6.6" fill="#2a2a2a" stroke="#2a2a2a" stroke-width="0.1" text-anchor="end" textLength="8.6" lengthAdjust="spacingAndGlyphs" >0.5</text>
<text x="38.6" y="198.75" font-size="6.6" fill="#2a2a2a" stroke="#2a2a2a" stroke-width="0.1" text-anchor="end" textLength="8.6" lengthAdjust="spacingAndGlyphs" >1.0</text>
<text x="43.9" y="276.8" font-size="6.6" fill="#2a2a2a" stroke="#2a2a2a" stroke-width="0.1" text-anchor="middle" textLength="3.25" lengthAdjust="spacingAndGlyphs" >0</text>
<text x="81.7" y="276.8" font-size="6.6" fill="#2a2a2a" stroke="#2a2a2a" stroke-width="0.1" text-anchor="middle" textLength="6.5" lengthAdjust="spacingAndGlyphs" >20</text>
<text x="119.5" y="276.8" font-size="6.6" fill="#2a2a2a" stroke="#2a2a2a" stroke-width="0.1" text-anchor="middle" textLength="6.5" lengthAdjust="spacingAndGlyphs" >40</text>
<text x="157.3" y="276.8" font-size="6.6" fill="#2a2a2a" stroke="#2a2a2a" stroke-width="0.1" text-anchor="middle" textLength="6.5" lengthAdjust="spacingAndGlyphs" >60</text>
<text x="103" y="289.1" font-size="8.3" fill="#2a2a2a" stroke="#2a2a2a" stroke-width="0.22" text-anchor="middle" textLength="60.6" lengthAdjust="spacingAndGlyphs" >Time in days after Tx</text>
<text x="22.6" y="226" font-size="8.2" fill="#333" stroke="#333" stroke-width="0.08" text-anchor="middle" textLength="64.8" lengthAdjust="spacingAndGlyphs" transform="rotate(-90 22.6 226)" >Probability of survival</text>
<path d="M44.5,196.4 H112.9 V210.22 H120.3 V224.04 H127.9 V237.86 H130 V251.68 H131.6 V265.5" stroke="#214a78" stroke-width="1.1" fill="none" />
<path d="M44.5,196.4 H85.6 V210.22 H89.6 V224.04 H93.3 V237.86 H95.7 V251.68 H97.6 V265.5" stroke="#214a78" stroke-width="1.1" fill="none" />
<path d="M44.5,196.4 H118.5 V213.68 H130.2 V230.95 H137.9 V248.22 H139.4 V265.5" stroke="#43a649" stroke-width="1.1" fill="none" />
<path d="M44.5,196.4 H89.6 V210.22 H98.9 V224.04 H109.1 V237.86 H112.4 V251.68 H116.5 V265.5" stroke="#43a649" stroke-width="1.1" fill="none" />
<circle cx="89.6" cy="210.22" r="1.56" fill="#43a649" />
<circle cx="98.9" cy="224.04" r="1.56" fill="#43a649" />
<circle cx="109.1" cy="237.86" r="1.56" fill="#43a649" />
<circle cx="112.4" cy="251.68" r="1.56" fill="#43a649" />
<circle cx="116.5" cy="265.5" r="1.56" fill="#43a649" />
<polygon points="85.6,208.28 87.4,211.52 83.8,211.52" fill="#214a78"/>
<polygon points="89.6,222.1 91.4,225.34 87.8,225.34" fill="#214a78"/>
<polygon points="93.3,235.92 95.1,239.16 91.5,239.16" fill="#214a78"/>
<polygon points="95.7,249.74 97.5,252.98 93.9,252.98" fill="#214a78"/>
<polygon points="97.6,263.56 99.4,266.8 95.8,266.8" fill="#214a78"/>
<rect x="116.82" y="212" width="3.36" height="3.36" fill="#c3102f" />
<rect x="128.52" y="229.27" width="3.36" height="3.36" fill="#c3102f" />
<rect x="136.22" y="246.54" width="3.36" height="3.36" fill="#c3102f" />
<rect x="137.72" y="263.82" width="3.36" height="3.36" fill="#c3102f" />
<polygon points="112.9,212.16 114.7,208.92 111.1,208.92" fill="#c3102f"/>
<polygon points="120.3,225.98 122.1,222.74 118.5,222.74" fill="#c3102f"/>
<polygon points="127.9,239.8 129.7,236.56 126.1,236.56" fill="#c3102f"/>
<polygon points="130,253.62 131.8,250.38 128.2,250.38" fill="#c3102f"/>
<polygon points="131.6,267.44 133.4,264.2 129.8,264.2" fill="#c3102f"/>
<line x1="96.1" y1="231.3" x2="121.28" y2="231.3" stroke="#214a78" stroke-width="1" />
<polygon points="123.2,231.3 119.84,229.5 119.84,233.1" fill="#214a78"/>
<path d="M106.6,226.9 L106.6,229.1 M105.65,227.45 L107.55,228.55 M107.55,227.45 L105.65,228.55 " stroke="#2a2a2a" stroke-width="0.75" fill="none" />
<path d="M110,226.9 L110,229.1 M109.05,227.45 L110.95,228.55 M110.95,227.45 L109.05,228.55 " stroke="#2a2a2a" stroke-width="0.75" fill="none" />
<path d="M113.4,226.9 L113.4,229.1 M112.45,227.45 L114.35,228.55 M114.35,227.45 L112.45,228.55 " stroke="#2a2a2a" stroke-width="0.75" fill="none" />
<line x1="120.2" y1="259.4" x2="133.28" y2="259.4" stroke="#43a649" stroke-width="1" />
<polygon points="135.2,259.4 131.84,257.6 131.84,261.2" fill="#43a649"/>
<path d="M123.8,254.9 L123.8,257.1 M122.85,255.45 L124.75,256.55 M124.75,255.45 L122.85,256.55 " stroke="#2a2a2a" stroke-width="0.75" fill="none" />
<path d="M127,254.9 L127,257.1 M126.05,255.45 L127.95,256.55 M127.95,255.45 L126.05,256.55 " stroke="#2a2a2a" stroke-width="0.75" fill="none" />
<line x1="44.1" y1="303.4" x2="53.3" y2="303.4" stroke="#43a649" stroke-width="1.25" />
<circle cx="48.7" cy="303.4" r="1.62" fill="#43a649" />
<text x="56" y="305.6" font-size="6" fill="#2a2a2a" stroke="#2a2a2a" stroke-width="0.14" textLength="9.6" lengthAdjust="spacingAndGlyphs" >Tx2</text>
<line x1="98" y1="303.4" x2="107.3" y2="303.4" stroke="#214a78" stroke-width="1.25" />
<polygon points="102.65,301.38 104.53,304.75 100.78,304.75" fill="#214a78"/>
<text x="110.3" y="305.6" font-size="6" fill="#2a2a2a" stroke="#2a2a2a" stroke-width="0.14" textLength="9.6" lengthAdjust="spacingAndGlyphs" >Tx3</text>
<line x1="44.1" y1="313.7" x2="53.3" y2="313.7" stroke="#c3102f" stroke-width="1.25" />
<rect x="46.83" y="311.82" width="3.75" height="3.75" fill="#c3102f" />
<text x="56" y="315.9" font-size="6" fill="#2a2a2a" stroke="#2a2a2a" stroke-width="0.14" textLength="30.6" lengthAdjust="spacingAndGlyphs" >Tx2 + Ruxo</text>
<line x1="98" y1="313.7" x2="107.3" y2="313.7" stroke="#7a2040" stroke-width="1.25" />
<polygon points="102.65,315.72 104.53,312.35 100.78,312.35" fill="#c3102f"/>
<text x="110.3" y="315.9" font-size="6" fill="#2a2a2a" stroke="#2a2a2a" stroke-width="0.14" textLength="30.6" lengthAdjust="spacingAndGlyphs" >Tx3 + Ruxo</text>
<text x="231.6" y="174.2" font-size="8.3" textLength="94.7" lengthAdjust="spacingAndGlyphs"><tspan fill="#dba85a" stroke="#dba85a" stroke-width="0.14">Tx 4</tspan><tspan fill="#222" stroke="#222" stroke-width="0.14"> and </tspan><tspan fill="#3e2d52" stroke="#3e2d52" stroke-width="0.14">Tx5: </tspan><tspan fill="#c8174a" stroke="#c8174a" stroke-width="0.14">Ruxolitinib</tspan></text>
<text x="259.9" y="184.8" font-size="8.3" fill="#333" stroke="#333" stroke-width="0.14" textLength="37.6" lengthAdjust="spacingAndGlyphs" >treatment</text>
<line x1="222" y1="188.8" x2="222" y2="266" stroke="#1a1a1a" stroke-width="1.2" />
<line x1="220.2" y1="265.5" x2="222" y2="265.5" stroke="#1a1a1a" stroke-width="0.9" />
<line x1="220.2" y1="262.12" x2="222" y2="262.12" stroke="#1a1a1a" stroke-width="0.9" />
<line x1="220.2" y1="258.73" x2="222" y2="258.73" stroke="#1a1a1a" stroke-width="0.9" />
<line x1="220.2" y1="255.34" x2="222" y2="255.34" stroke="#1a1a1a" stroke-width="0.9" />
<line x1="220.2" y1="251.96" x2="222" y2="251.96" stroke="#1a1a1a" stroke-width="0.9" />
<line x1="220.2" y1="248.57" x2="222" y2="248.57" stroke="#1a1a1a" stroke-width="0.9" />
<line x1="220.2" y1="245.19" x2="222" y2="245.19" stroke="#1a1a1a" stroke-width="0.9" />
<line x1="220.2" y1="241.81" x2="222" y2="241.81" stroke="#1a1a1a" stroke-width="0.9" />
<line x1="220.2" y1="238.42" x2="222" y2="238.42" stroke="#1a1a1a" stroke-width="0.9" />
<line x1="220.2" y1="235.03" x2="222" y2="235.03" stroke="#1a1a1a" stroke-width="0.9" />
<line x1="220.2" y1="231.65" x2="222" y2="231.65" stroke="#1a1a1a" stroke-width="0.9" />
<line x1="220.2" y1="228.26" x2="222" y2="228.26" stroke="#1a1a1a" stroke-width="0.9" />
<line x1="220.2" y1="224.88" x2="222" y2="224.88" stroke="#1a1a1a" stroke-width="0.9" />
<line x1="220.2" y1="221.5" x2="222" y2="221.5" stroke="#1a1a1a" stroke-width="0.9" />
<line x1="220.2" y1="218.11" x2="222" y2="218.11" stroke="#1a1a1a" stroke-width="0.9" />
<line x1="220.2" y1="214.72" x2="222" y2="214.72" stroke="#1a1a1a" stroke-width="0.9" />
<line x1="220.2" y1="211.34" x2="222" y2="211.34" stroke="#1a1a1a" stroke-width="0.9" />
<line x1="220.2" y1="207.95" x2="222" y2="207.95" stroke="#1a1a1a" stroke-width="0.9" />
<line x1="220.2" y1="204.57" x2="222" y2="204.57" stroke="#1a1a1a" stroke-width="0.9" />
<line x1="220.2" y1="201.19" x2="222" y2="201.19" stroke="#1a1a1a" stroke-width="0.9" />
<line x1="220.2" y1="197.8" x2="222" y2="197.8" stroke="#1a1a1a" stroke-width="0.9" />
<line x1="220.2" y1="194.41" x2="222" y2="194.41" stroke="#1a1a1a" stroke-width="0.9" />
<line x1="220.2" y1="191.03" x2="222" y2="191.03" stroke="#1a1a1a" stroke-width="0.9" />
<line x1="219.2" y1="265.5" x2="222" y2="265.5" stroke="#1a1a1a" stroke-width="1" />
<line x1="219.2" y1="231.65" x2="222" y2="231.65" stroke="#1a1a1a" stroke-width="1" />
<line x1="219.2" y1="197.8" x2="222" y2="197.8" stroke="#1a1a1a" stroke-width="1" />
<line x1="221.5" y1="265.5" x2="334.5" y2="265.5" stroke="#1a1a1a" stroke-width="1.2" />
<line x1="222" y1="265.5" x2="222" y2="268.5" stroke="#1a1a1a" stroke-width="1" />
<line x1="244.25" y1="265.5" x2="244.25" y2="268.5" stroke="#1a1a1a" stroke-width="1" />
<line x1="266.5" y1="265.5" x2="266.5" y2="268.5" stroke="#1a1a1a" stroke-width="1" />
<line x1="288.75" y1="265.5" x2="288.75" y2="268.5" stroke="#1a1a1a" stroke-width="1" />
<line x1="311" y1="265.5" x2="311" y2="268.5" stroke="#1a1a1a" stroke-width="1" />
<line x1="333.25" y1="265.5" x2="333.25" y2="268.5" stroke="#1a1a1a" stroke-width="1" />
<text x="215.6" y="267.85" font-size="6.6" fill="#2a2a2a" stroke="#2a2a2a" stroke-width="0.1" text-anchor="end" textLength="3.3" lengthAdjust="spacingAndGlyphs" >0</text>
<text x="215.6" y="234" font-size="6.6" fill="#2a2a2a" stroke="#2a2a2a" stroke-width="0.1" text-anchor="end" textLength="6.6" lengthAdjust="spacingAndGlyphs" >50</text>
<text x="215.6" y="200.15" font-size="6.6" fill="#2a2a2a" stroke="#2a2a2a" stroke-width="0.1" text-anchor="end" textLength="9.9" lengthAdjust="spacingAndGlyphs" >100</text>
<text x="222" y="276.9" font-size="6.6" fill="#2a2a2a" stroke="#2a2a2a" stroke-width="0.1" text-anchor="middle" textLength="3.25" lengthAdjust="spacingAndGlyphs" >0</text>
<text x="244.25" y="276.9" font-size="6.6" fill="#2a2a2a" stroke="#2a2a2a" stroke-width="0.1" text-anchor="middle" textLength="6.5" lengthAdjust="spacingAndGlyphs" >10</text>
<text x="266.5" y="276.9" font-size="6.6" fill="#2a2a2a" stroke="#2a2a2a" stroke-width="0.1" text-anchor="middle" textLength="6.5" lengthAdjust="spacingAndGlyphs" >20</text>
<text x="288.75" y="276.9" font-size="6.6" fill="#2a2a2a" stroke="#2a2a2a" stroke-width="0.1" text-anchor="middle" textLength="6.5" lengthAdjust="spacingAndGlyphs" >30</text>
<text x="311" y="276.9" font-size="6.6" fill="#2a2a2a" stroke="#2a2a2a" stroke-width="0.1" text-anchor="middle" textLength="6.5" lengthAdjust="spacingAndGlyphs" >40</text>
<text x="333.25" y="276.9" font-size="6.6" fill="#2a2a2a" stroke="#2a2a2a" stroke-width="0.1" text-anchor="middle" textLength="6.5" lengthAdjust="spacingAndGlyphs" >50</text>
<text x="278.9" y="289.2" font-size="8.3" fill="#2a2a2a" stroke="#2a2a2a" stroke-width="0.22" text-anchor="middle" textLength="60.3" lengthAdjust="spacingAndGlyphs" >Time in days after Tx</text>
<text x="199.6" y="227.4" font-size="8.2" fill="#333" stroke="#333" stroke-width="0.08" text-anchor="middle" textLength="64.8" lengthAdjust="spacingAndGlyphs" transform="rotate(-90 199.6 227.4)" >Probability of survival</text>
<path d="M222.5,197.8 H268.4 V211.34 H270.4 V224.88 H276.8 V238.42 H280.6 V251.96 H281.6 V265.5" stroke="#4a1f63" stroke-width="1.1" fill="none" />
<path d="M222.5,197.8 H268.4 V211.34 H270.4 V224.88 H272.4 V238.42 H277.6 V251.96 H279.4 V265.5" stroke="#4a1f63" stroke-width="1.1" fill="none" />
<path d="M222.5,197.8 H294.8 V211.34 H296.7 V224.88 H301.5 V238.42 H310.4 V251.96 H317 V265.5" stroke="#eba33a" stroke-width="1.1" fill="none" />
<path d="M222.5,197.8 H276.8 V211.34 H286.1 V224.88 H287.7 V238.42 H292.3 V251.96 H294.6 V265.5" stroke="#eba33a" stroke-width="1.1" fill="none" />
<circle cx="276.8" cy="211.34" r="1.56" fill="#eba33a" />
<circle cx="286.1" cy="224.88" r="1.56" fill="#eba33a" />
<circle cx="287.7" cy="238.42" r="1.56" fill="#eba33a" />
<circle cx="292.3" cy="251.96" r="1.56" fill="#eba33a" />
<circle cx="294.6" cy="265.5" r="1.56" fill="#eba33a" />
<rect x="293.12" y="209.66" width="3.36" height="3.36" fill="#b01030" />
<rect x="295.02" y="223.2" width="3.36" height="3.36" fill="#b01030" />
<rect x="299.82" y="236.74" width="3.36" height="3.36" fill="#b01030" />
<rect x="308.72" y="250.28" width="3.36" height="3.36" fill="#b01030" />
<rect x="315.32" y="263.82" width="3.36" height="3.36" fill="#b01030" />
<polygon points="268.4,209.4 270.2,212.64 266.6,212.64" fill="#4a1f63"/>
<polygon points="270.4,222.94 272.2,226.18 268.6,226.18" fill="#4a1f63"/>
<polygon points="272.4,236.48 274.2,239.72 270.6,239.72" fill="#4a1f63"/>
<polygon points="277.6,250.02 279.4,253.26 275.8,253.26" fill="#4a1f63"/>
<polygon points="279.4,263.56 281.2,266.8 277.6,266.8" fill="#4a1f63"/>
<polygon points="268.4,213.28 270.2,210.04 266.6,210.04" fill="#6a1848"/>
<polygon points="270.4,226.82 272.2,223.58 268.6,223.58" fill="#6a1848"/>
<polygon points="276.8,240.36 278.6,237.12 275,237.12" fill="#6a1848"/>
<polygon points="280.6,253.9 282.4,250.66 278.8,250.66" fill="#6a1848"/>
<polygon points="281.6,267.44 283.4,264.2 279.8,264.2" fill="#6a1848"/>
<line x1="296.7" y1="248.4" x2="306.28" y2="248.4" stroke="#d8952e" stroke-width="1" />
<polygon points="308.2,248.4 304.84,246.6 304.84,250.2" fill="#d8952e"/>
<path d="M301.1,243.9 L301.1,246.1 M300.15,244.45 L302.05,245.55 M302.05,244.45 L300.15,245.55 " stroke="#2a2a2a" stroke-width="0.75" fill="none" />
<line x1="221.8" y1="303.6" x2="230.5" y2="303.6" stroke="#eba33a" stroke-width="1.25" />
<circle cx="226.15" cy="303.6" r="1.62" fill="#eba33a" />
<text x="233.9" y="305.8" font-size="6" fill="#2a2a2a" stroke="#2a2a2a" stroke-width="0.14" textLength="9.6" lengthAdjust="spacingAndGlyphs" >Tx4</text>
<line x1="276.7" y1="303.5" x2="286.2" y2="303.5" stroke="#4a1f63" stroke-width="1.25" />
<polygon points="281.45,301.48 283.32,304.85 279.57,304.85" fill="#4a1f63"/>
<text x="288.9" y="305.7" font-size="6" fill="#2a2a2a" stroke="#2a2a2a" stroke-width="0.14" textLength="9.4" lengthAdjust="spacingAndGlyphs" >Tx5</text>
<line x1="221.5" y1="313.7" x2="230.2" y2="313.7" stroke="#b01030" stroke-width="1.25" />
<rect x="223.97" y="311.82" width="3.75" height="3.75" fill="#b01030" />
<text x="233.7" y="315.9" font-size="6" fill="#2a2a2a" stroke="#2a2a2a" stroke-width="0.14" textLength="30.9" lengthAdjust="spacingAndGlyphs" >Tx4 + Ruxo</text>
<line x1="276.7" y1="313.7" x2="286.2" y2="313.7" stroke="#7a2050" stroke-width="1.25" />
<polygon points="281.45,315.72 283.32,312.35 279.57,312.35" fill="#8a1040"/>
<text x="288.9" y="315.9" font-size="6" fill="#2a2a2a" stroke="#2a2a2a" stroke-width="0.14" textLength="29.6" lengthAdjust="spacingAndGlyphs" >Tx5 + Ruxo</text>
<text x="356.5" y="166.6" font-size="11.4" fill="#111" stroke="#111" stroke-width="0.45" font-weight="bold" textLength="8" lengthAdjust="spacingAndGlyphs" >P</text>
<text x="410.6" y="178.9" font-size="8.3" textLength="80.1" lengthAdjust="spacingAndGlyphs"><tspan fill="#dba85a" stroke="#dba85a" stroke-width="0.14">Tx 4</tspan><tspan fill="#555" stroke="#555" stroke-width="0.14">:</tspan><tspan fill="#3a5a85" stroke="#3a5a85" stroke-width="0.14"> Ly6G</tspan><tspan fill="#333" stroke="#333" stroke-width="0.14"> treatment</tspan></text>
<line x1="395" y1="190.2" x2="395" y2="266" stroke="#1a1a1a" stroke-width="1.2" />
<line x1="393.2" y1="265.5" x2="395" y2="265.5" stroke="#1a1a1a" stroke-width="0.9" />
<line x1="393.2" y1="262.18" x2="395" y2="262.18" stroke="#1a1a1a" stroke-width="0.9" />
<line x1="393.2" y1="258.85" x2="395" y2="258.85" stroke="#1a1a1a" stroke-width="0.9" />
<line x1="393.2" y1="255.53" x2="395" y2="255.53" stroke="#1a1a1a" stroke-width="0.9" />
<line x1="393.2" y1="252.2" x2="395" y2="252.2" stroke="#1a1a1a" stroke-width="0.9" />
<line x1="393.2" y1="248.88" x2="395" y2="248.88" stroke="#1a1a1a" stroke-width="0.9" />
<line x1="393.2" y1="245.55" x2="395" y2="245.55" stroke="#1a1a1a" stroke-width="0.9" />
<line x1="393.2" y1="242.22" x2="395" y2="242.22" stroke="#1a1a1a" stroke-width="0.9" />
<line x1="393.2" y1="238.9" x2="395" y2="238.9" stroke="#1a1a1a" stroke-width="0.9" />
<line x1="393.2" y1="235.57" x2="395" y2="235.57" stroke="#1a1a1a" stroke-width="0.9" />
<line x1="393.2" y1="232.25" x2="395" y2="232.25" stroke="#1a1a1a" stroke-width="0.9" />
<line x1="393.2" y1="228.93" x2="395" y2="228.93" stroke="#1a1a1a" stroke-width="0.9" />
<line x1="393.2" y1="225.6" x2="395" y2="225.6" stroke="#1a1a1a" stroke-width="0.9" />
<line x1="393.2" y1="222.28" x2="395" y2="222.28" stroke="#1a1a1a" stroke-width="0.9" />
<line x1="393.2" y1="218.95" x2="395" y2="218.95" stroke="#1a1a1a" stroke-width="0.9" />
<line x1="393.2" y1="215.62" x2="395" y2="215.62" stroke="#1a1a1a" stroke-width="0.9" />
<line x1="393.2" y1="212.3" x2="395" y2="212.3" stroke="#1a1a1a" stroke-width="0.9" />
<line x1="393.2" y1="208.97" x2="395" y2="208.97" stroke="#1a1a1a" stroke-width="0.9" />
<line x1="393.2" y1="205.65" x2="395" y2="205.65" stroke="#1a1a1a" stroke-width="0.9" />
<line x1="393.2" y1="202.32" x2="395" y2="202.32" stroke="#1a1a1a" stroke-width="0.9" />
<line x1="393.2" y1="199" x2="395" y2="199" stroke="#1a1a1a" stroke-width="0.9" />
<line x1="393.2" y1="195.68" x2="395" y2="195.68" stroke="#1a1a1a" stroke-width="0.9" />
<line x1="393.2" y1="192.35" x2="395" y2="192.35" stroke="#1a1a1a" stroke-width="0.9" />
<line x1="392.2" y1="265.5" x2="395" y2="265.5" stroke="#1a1a1a" stroke-width="1" />
<line x1="392.2" y1="232.25" x2="395" y2="232.25" stroke="#1a1a1a" stroke-width="1" />
<line x1="392.2" y1="199" x2="395" y2="199" stroke="#1a1a1a" stroke-width="1" />
<line x1="394.5" y1="265.5" x2="506.5" y2="265.5" stroke="#1a1a1a" stroke-width="1.2" />
<line x1="395" y1="265.5" x2="395" y2="267.4" stroke="#1a1a1a" stroke-width="0.9" />
<line x1="398.64" y1="265.5" x2="398.64" y2="267.4" stroke="#1a1a1a" stroke-width="0.9" />
<line x1="402.28" y1="265.5" x2="402.28" y2="267.4" stroke="#1a1a1a" stroke-width="0.9" />
<line x1="405.92" y1="265.5" x2="405.92" y2="267.4" stroke="#1a1a1a" stroke-width="0.9" />
<line x1="409.56" y1="265.5" x2="409.56" y2="267.4" stroke="#1a1a1a" stroke-width="0.9" />
<line x1="413.2" y1="265.5" x2="413.2" y2="267.4" stroke="#1a1a1a" stroke-width="0.9" />
<line x1="416.84" y1="265.5" x2="416.84" y2="267.4" stroke="#1a1a1a" stroke-width="0.9" />
<line x1="420.48" y1="265.5" x2="420.48" y2="267.4" stroke="#1a1a1a" stroke-width="0.9" />
<line x1="424.12" y1="265.5" x2="424.12" y2="267.4" stroke="#1a1a1a" stroke-width="0.9" />
<line x1="427.76" y1="265.5" x2="427.76" y2="267.4" stroke="#1a1a1a" stroke-width="0.9" />
<line x1="431.4" y1="265.5" x2="431.4" y2="267.4" stroke="#1a1a1a" stroke-width="0.9" />
<line x1="435.04" y1="265.5" x2="435.04" y2="267.4" stroke="#1a1a1a" stroke-width="0.9" />
<line x1="438.68" y1="265.5" x2="438.68" y2="267.4" stroke="#1a1a1a" stroke-width="0.9" />
<line x1="442.32" y1="265.5" x2="442.32" y2="267.4" stroke="#1a1a1a" stroke-width="0.9" />
<line x1="445.96" y1="265.5" x2="445.96" y2="267.4" stroke="#1a1a1a" stroke-width="0.9" />
<line x1="449.6" y1="265.5" x2="449.6" y2="267.4" stroke="#1a1a1a" stroke-width="0.9" />
<line x1="453.24" y1="265.5" x2="453.24" y2="267.4" stroke="#1a1a1a" stroke-width="0.9" />
<line x1="456.88" y1="265.5" x2="456.88" y2="267.4" stroke="#1a1a1a" stroke-width="0.9" />
<line x1="460.52" y1="265.5" x2="460.52" y2="267.4" stroke="#1a1a1a" stroke-width="0.9" />
<line x1="464.16" y1="265.5" x2="464.16" y2="267.4" stroke="#1a1a1a" stroke-width="0.9" />
<line x1="467.8" y1="265.5" x2="467.8" y2="267.4" stroke="#1a1a1a" stroke-width="0.9" />
<line x1="471.44" y1="265.5" x2="471.44" y2="267.4" stroke="#1a1a1a" stroke-width="0.9" />
<line x1="475.08" y1="265.5" x2="475.08" y2="267.4" stroke="#1a1a1a" stroke-width="0.9" />
<line x1="478.72" y1="265.5" x2="478.72" y2="267.4" stroke="#1a1a1a" stroke-width="0.9" />
<line x1="482.36" y1="265.5" x2="482.36" y2="267.4" stroke="#1a1a1a" stroke-width="0.9" />
<line x1="486" y1="265.5" x2="486" y2="267.4" stroke="#1a1a1a" stroke-width="0.9" />
<line x1="489.64" y1="265.5" x2="489.64" y2="267.4" stroke="#1a1a1a" stroke-width="0.9" />
<line x1="493.28" y1="265.5" x2="493.28" y2="267.4" stroke="#1a1a1a" stroke-width="0.9" />
<line x1="496.92" y1="265.5" x2="496.92" y2="267.4" stroke="#1a1a1a" stroke-width="0.9" />
<line x1="500.56" y1="265.5" x2="500.56" y2="267.4" stroke="#1a1a1a" stroke-width="0.9" />
<line x1="504.2" y1="265.5" x2="504.2" y2="267.4" stroke="#1a1a1a" stroke-width="0.9" />
<line x1="395" y1="265.5" x2="395" y2="268.5" stroke="#1a1a1a" stroke-width="1" />
<line x1="431.4" y1="265.5" x2="431.4" y2="268.5" stroke="#1a1a1a" stroke-width="1" />
<line x1="467.8" y1="265.5" x2="467.8" y2="268.5" stroke="#1a1a1a" stroke-width="1" />
<line x1="504.2" y1="265.5" x2="504.2" y2="268.5" stroke="#1a1a1a" stroke-width="1" />
<text x="389" y="267.85" font-size="6.6" fill="#2a2a2a" stroke="#2a2a2a" stroke-width="0.1" text-anchor="end" textLength="3.25" lengthAdjust="spacingAndGlyphs" >0</text>
<text x="389" y="234.6" font-size="6.6" fill="#2a2a2a" stroke="#2a2a2a" stroke-width="0.1" text-anchor="end" textLength="6.5" lengthAdjust="spacingAndGlyphs" >50</text>
<text x="389" y="201.35" font-size="6.6" fill="#2a2a2a" stroke="#2a2a2a" stroke-width="0.1" text-anchor="end" textLength="9.75" lengthAdjust="spacingAndGlyphs" >100</text>
<text x="395" y="276.9" font-size="6.6" fill="#2a2a2a" stroke="#2a2a2a" stroke-width="0.1" text-anchor="middle" textLength="3.25" lengthAdjust="spacingAndGlyphs" >0</text>
<text x="431.4" y="276.9" font-size="6.6" fill="#2a2a2a" stroke="#2a2a2a" stroke-width="0.1" text-anchor="middle" textLength="6.5" lengthAdjust="spacingAndGlyphs" >20</text>
<text x="467.8" y="276.9" font-size="6.6" fill="#2a2a2a" stroke="#2a2a2a" stroke-width="0.1" text-anchor="middle" textLength="6.5" lengthAdjust="spacingAndGlyphs" >40</text>
<text x="504.2" y="276.9" font-size="6.6" fill="#2a2a2a" stroke="#2a2a2a" stroke-width="0.1" text-anchor="middle" textLength="6.5" lengthAdjust="spacingAndGlyphs" >60</text>
<text x="451" y="289.6" font-size="8.3" fill="#2a2a2a" stroke="#2a2a2a" stroke-width="0.22" text-anchor="middle" textLength="60.8" lengthAdjust="spacingAndGlyphs" >Time in days after Tx</text>
<text x="372.7" y="228.4" font-size="8.2" fill="#333" stroke="#333" stroke-width="0.08" text-anchor="middle" textLength="63.2" lengthAdjust="spacingAndGlyphs" transform="rotate(-90 372.7 228.4)" >Probability of survival</text>
<path d="M395.7,199 H468.7 V215.62 H481.6 V232.25 H488.4 V248.88 H490.8 V265.5" stroke="#eba33a" stroke-width="1.1" fill="none" />
<path d="M395.7,199 H456.1 V215.62 H459.2 V232.25 H467 V248.88 H472.1 V265.5" stroke="#eba33a" stroke-width="1.1" fill="none" />
<circle cx="456.1" cy="215.62" r="1.56" fill="#eba33a" />
<circle cx="459.2" cy="232.25" r="1.56" fill="#eba33a" />
<circle cx="467" cy="248.88" r="1.56" fill="#eba33a" />
<circle cx="472.1" cy="265.5" r="1.56" fill="#eba33a" />
<rect x="467.02" y="213.94" width="3.36" height="3.36" fill="#1d3f6e" />
<rect x="479.92" y="230.57" width="3.36" height="3.36" fill="#1d3f6e" />
<rect x="486.72" y="247.19" width="3.36" height="3.36" fill="#1d3f6e" />
<rect x="489.12" y="263.82" width="3.36" height="3.36" fill="#1d3f6e" />
<line x1="472.1" y1="246.1" x2="482.08" y2="246.1" stroke="#eba33a" stroke-width="1" />
<polygon points="484,246.1 480.64,244.3 480.64,247.9" fill="#eba33a"/>
<path d="M476.2,241.3 L476.2,243.5 M475.25,241.85 L477.15,242.95 M477.15,241.85 L475.25,242.95 " stroke="#2a2a2a" stroke-width="0.75" fill="none" />
<line x1="394.4" y1="303.8" x2="404" y2="303.8" stroke="#eba33a" stroke-width="1.25" />
<circle cx="399.2" cy="303.8" r="1.62" fill="#eba33a" />
<text x="406.9" y="306" font-size="6" fill="#2a2a2a" stroke="#2a2a2a" stroke-width="0.14" textLength="9.3" lengthAdjust="spacingAndGlyphs" >Tx4</text>
<line x1="394.4" y1="314" x2="404" y2="314" stroke="#5a8ab0" stroke-width="1.25" />
<rect x="397.32" y="312.12" width="3.75" height="3.75" fill="#1d3f6e" />
<text x="406.9" y="316.2" font-size="6" fill="#2a2a2a" stroke="#2a2a2a" stroke-width="0.14" textLength="30.4" lengthAdjust="spacingAndGlyphs" >Tx4 + Ly6G</text>
<line x1="0" y1="0.5" x2="520" y2="0.5" stroke="#6a6a6a" stroke-width="1" />
<line x1="0.5" y1="0" x2="0.5" y2="324" stroke="#555" stroke-width="1" />
<line x1="519.5" y1="0" x2="519.5" y2="324" stroke="#555" stroke-width="1" />
<line x1="0" y1="323.2" x2="520" y2="323.2" stroke="#444" stroke-width="1.6" /></svg>
</body></html>
